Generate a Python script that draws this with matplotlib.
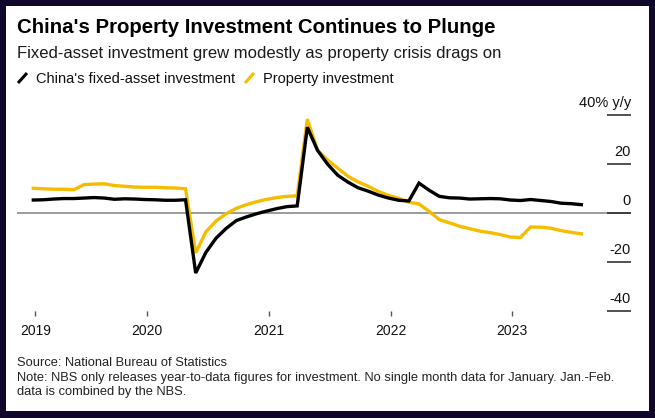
import matplotlib.pyplot as plt
from matplotlib.lines import Line2D
from matplotlib.patches import Rectangle

plt.rcParams["font.family"] = ["Liberation Sans", "DejaVu Sans"]

# year-to-date growth, Aug 2018 .. Jul 2023 (no separate January figures)
fixed_asset = [
    5.3, 5.4, 5.7, 5.9, 5.9,
    6.1, 6.3, 6.1, 5.6, 5.8, 5.7, 5.5, 5.4, 5.2, 5.2, 5.4,
    -24.5, -16.1, -10.3, -6.3, -3.1, -1.6, -0.3, 0.8, 1.8, 2.6, 2.9,
    35.0, 25.6, 19.9, 15.4, 12.6, 10.3, 8.9, 7.3, 6.1, 5.2, 4.9,
    12.2, 9.3, 6.8, 6.2, 6.1, 5.7, 5.8, 5.9, 5.8, 5.3, 5.1,
    5.5, 5.1, 4.7, 4.0, 3.8, 3.4,
]
property_inv = [
    10.1, 9.9, 9.7, 9.7, 9.5,
    11.6, 11.8, 11.9, 11.2, 10.9, 10.6, 10.5, 10.5, 10.3, 10.2, 9.9,
    -16.3, -7.7, -3.3, -0.3, 1.9, 3.4, 4.6, 5.6, 6.3, 6.8, 7.0,
    38.3, 25.6, 21.6, 18.3, 15.0, 12.7, 10.9, 8.8, 7.2, 6.0, 4.4,
    3.7, 0.7, -2.7, -4.0, -5.4, -6.4, -7.4, -8.0, -8.8, -9.8, -10.0,
    -5.7, -5.8, -6.2, -7.2, -7.9, -8.5,
]
year_pos = [0.2, 11.2, 23.2, 35.2, 47.2]
year_labels = ["2019", "2020", "2021", "2022", "2023"]
y_ticks = [40, 20, 0, -20, -40]
y_labels = ["40% y/y", "20", "0", "-20", "-40"]

W, H = 655, 418
BLACK = "#000000"
YELLOW = "#f6bc00"


def px(x, y):
    # pixel position (from top-left) -> figure fraction
    return x / W, 1 - y / H


fig = plt.figure(figsize=(W / 100, H / 100), dpi=100)
fig.patch.set_facecolor("#11072a")
fig.add_artist(Rectangle(px(6, 411), (649 - 6) / W, (411 - 6) / H,
                         transform=fig.transFigure, facecolor="white",
                         edgecolor="none", zorder=0))

# axes box: x 17..631 px, y 112.5..316 px
ax = fig.add_axes([17 / W, 1 - 315.9 / H, 614 / W, (315.9 - 112.55) / H])
ax.set_zorder(1)
ax.patch.set_visible(False)

x = list(range(len(fixed_asset)))
ax.axhline(0, color="#8a8a8a", lw=1.2, zorder=1)
ax.plot(x, property_inv, color=YELLOW, lw=2.4, solid_joinstyle="miter", zorder=2)
ax.plot(x, fixed_asset, color=BLACK, lw=2.4, solid_joinstyle="miter", zorder=3)

ax.set_xlim(-1.606, 58.89)
ax.set_ylim(-42, 41)
for s in ax.spines.values():
    s.set_visible(False)

ax.set_xticks(year_pos)
ax.set_xticklabels(year_labels)
ax.tick_params(axis="x", direction="in", length=3.8, width=1, color="#555555",
               pad=6, labelsize=10, labelcolor="#111111")

ax.yaxis.tick_right()
ax.set_yticks(y_ticks)
ax.tick_params(axis="y", direction="in", length=17.3, width=1.1, color="#222222",
               labelright=False)
for v, lab in zip(y_ticks, y_labels):
    ax.annotate(lab, xy=(1, v), xycoords=("axes fraction", "data"),
                xytext=(0, 6), textcoords="offset points",
                ha="right", va="baseline", fontsize=10.5, color="#111111")

# header
fig.text(*px(17, 33.3), "China's Property Investment Continues to Plunge",
         fontsize=14.7, fontweight="bold", va="baseline", color="#000000")
fig.text(*px(17, 58.3),
         "Fixed-asset investment grew modestly as property crisis drags on",
         fontsize=12, va="baseline", color="#1a1a1a")

# legend
for (x0, col, lab) in [(18, BLACK, "China's fixed-asset investment"),
                       (245, YELLOW, "Property investment")]:
    a, b = px(x0, 83)
    c, d = px(x0 + 9, 73)
    fig.add_artist(Line2D([a, c], [b, d], transform=fig.transFigure,
                          color=col, lw=2.2, solid_capstyle="butt"))
    fig.text(*px(x0 + 18, 83.3), lab, fontsize=10.5, va="baseline",
             color="#111111")

# footer
notes = [
    "Source: National Bureau of Statistics",
    "Note: NBS only releases year-to-data figures for investment. "
    "No single month data for January. Jan.-Feb.",
    "data is combined by the NBS.",
]
for base, line in zip([366, 380.5, 395], notes):
    fig.text(*px(17, base), line, fontsize=9.3, va="baseline", color="#222222")

fig.savefig("out.png", dpi=100, facecolor=fig.get_facecolor())
